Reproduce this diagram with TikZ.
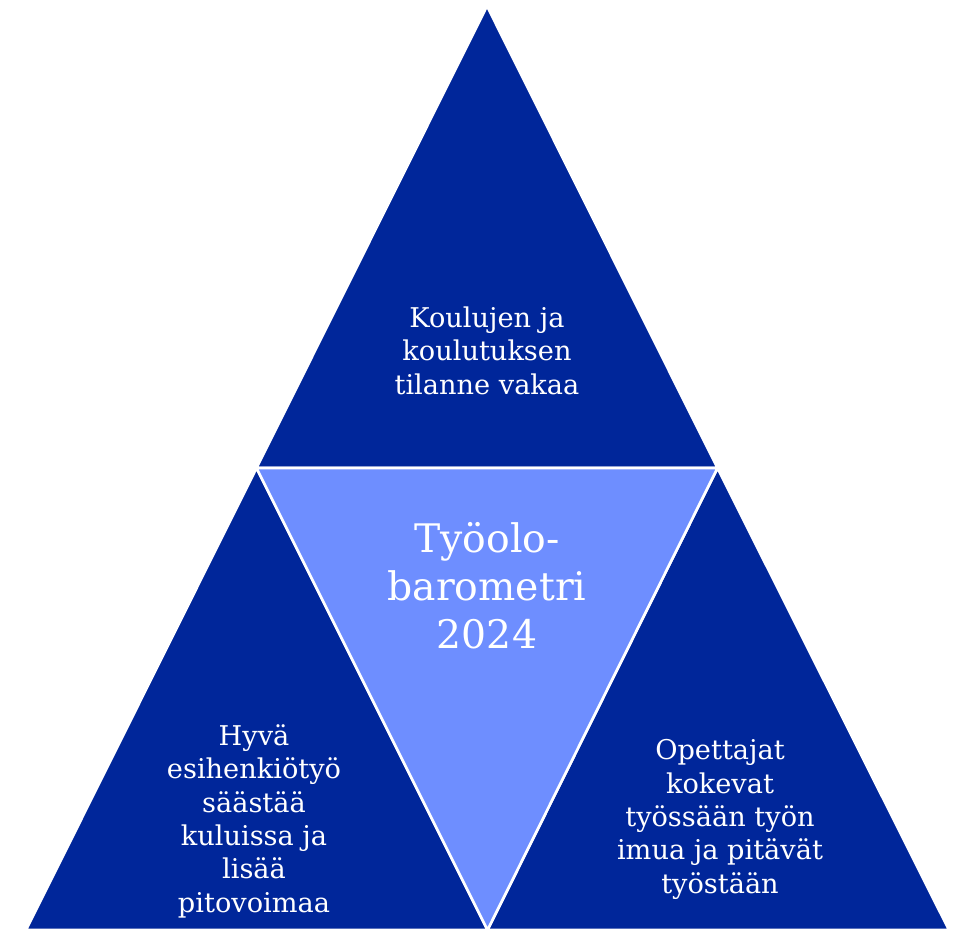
\documentclass[tikz,border=0pt]{standalone}
\usepackage{fontspec}
\setmainfont{DejaVu Serif}
\usepackage{tikz}
\usetikzlibrary{positioning}
\definecolor{darkblue}{HTML}{00269A}
\definecolor{lightblue}{HTML}{6E8EFF}
\begin{document}
\begin{tikzpicture}[x=0.75pt, y=-0.75pt,
	part/.style={fill=darkblue, draw=white, line width=2pt, line join=miter},
	mid/.style={fill=lightblue, draw=white, line width=2pt},
	txt/.style={text=white, align=center, anchor=base, inner sep=0pt, font=\fontsize{20.4}{25}\selectfont},
	bigtxt/.style={text=white, align=center, anchor=base, inner sep=0pt, font=\fontsize{29.5}{36}\selectfont}]
		\useasboundingbox (0,0) rectangle (963,930);
		\coordinate (a) at (487,6);
		\coordinate (b) at (26,930);
		\coordinate (c) at (949,930);
		\coordinate (ab) at (256.5,468);
		\coordinate (ac) at (717.5,468);
		\coordinate (bc) at (487.5,930);
		
		\draw[part] (a) -- (ab) -- (ac) -- cycle;
		\draw[part] (ab) -- (b) -- (bc) -- cycle;
		\draw[part] (ac) -- (bc) -- (c) -- cycle;
		\draw[mid] (ab) -- (ac) -- (bc) -- cycle;
		
		\node[txt] (t0) at (487,394) {Koulujen ja\\koulutuksen\\tilanne vakaa};
		\node[bigtxt] (t1) at (487,648) {Työolo-\\barometri\\2024};
		\node[txt] (t2) at (254,912) {Hyvä\\esihenkiötyö\\säästää\\kuluissa ja\\lisää\\pitovoimaa};
		\node[txt] (t3) at (720,893) {Opettajat\\kokevat\\työssään työn\\imua ja pitävät\\työstään};
		
		\end{tikzpicture}
\end{document}
